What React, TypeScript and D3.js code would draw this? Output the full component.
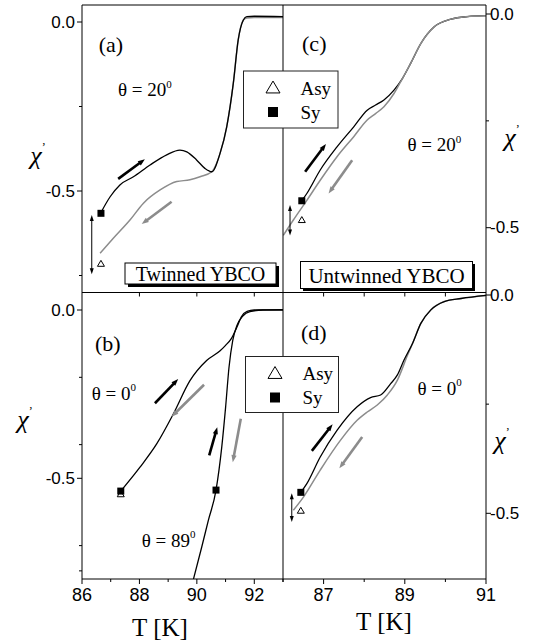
import React from "react";
import * as d3 from "d3";

// ---------- data ----------
const aSyT = [86.67, 86.98, 87.32, 87.79, 88.37, 88.95, 89.41, 89.65, 89.99, 90.28, 90.52, 90.81, 91.04, 91.27, 91.44, 91.62, 91.74, 92.0, 93.0];
const aSyChi = [-0.562, -0.517, -0.482, -0.458, -0.423, -0.393, -0.379, -0.384, -0.408, -0.433, -0.443, -0.388, -0.31, -0.181, -0.053, 0.006, 0.016, 0.017, 0.016];
const aAsyT = [86.63, 87.09, 87.67, 88.14, 88.72, 89.3, 89.76, 90.11, 90.52, 90.81, 91.04, 91.27, 91.44, 91.62, 91.74, 92.0, 93.0];
const aAsyChi = [-0.684, -0.64, -0.586, -0.536, -0.497, -0.472, -0.467, -0.458, -0.443, -0.388, -0.31, -0.181, -0.053, 0.006, 0.012, 0.013, 0.013];

const b0T = [87.35, 88.02, 88.6, 89.18, 89.76, 90.34, 90.81, 91.0, 91.2, 91.4, 91.55, 91.75, 92.0, 93.0];
const b0Chi = [-0.538, -0.467, -0.398, -0.309, -0.21, -0.15, -0.121, -0.105, -0.085, -0.05, -0.02, -0.004, 0.0, 0.001];
const b89T = [89.85, 90.17, 90.4, 90.667, 90.866, 91.0, 91.12, 91.25, 91.4, 91.6, 91.85, 92.3, 93.0];
const b89Chi = [-0.81, -0.704, -0.625, -0.535, -0.408, -0.29, -0.17, -0.09, -0.045, -0.018, -0.005, 0.0, 0.0];

const cSyT = [86.463, 86.587, 86.917, 87.33, 87.742, 88.074, 88.28, 88.486, 88.734, 88.94, 89.147, 89.395, 89.725, 90.14, 90.55, 91.0];
const cSyChi = [-0.437, -0.42, -0.365, -0.311, -0.264, -0.225, -0.213, -0.201, -0.178, -0.151, -0.115, -0.069, -0.03, -0.012, -0.006, -0.004];
const cAsyT = [86.007, 86.255, 86.587, 86.917, 87.33, 87.742, 88.074, 88.28, 88.486, 88.734, 88.94, 89.147, 89.395, 89.725, 90.14, 90.55, 91.0];
const cAsyChi = [-0.518, -0.482, -0.436, -0.389, -0.334, -0.287, -0.248, -0.233, -0.217, -0.186, -0.151, -0.115, -0.069, -0.03, -0.012, -0.006, -0.004];

const dSyT = [86.439, 86.587, 86.917, 87.33, 87.826, 88.156, 88.404, 88.652, 88.818, 88.981, 89.19, 89.395, 89.643, 89.973, 90.387, 91.0];
const dSyChi = [-0.452, -0.432, -0.371, -0.31, -0.256, -0.235, -0.229, -0.203, -0.183, -0.149, -0.111, -0.065, -0.034, -0.015, -0.008, -0.001];
const dAsyT = [86.255, 86.503, 86.917, 87.413, 87.826, 88.074, 88.322, 88.57, 88.818, 89.066, 89.19, 89.395, 89.643, 89.973, 90.387, 91.0];
const dAsyChi = [-0.493, -0.463, -0.401, -0.333, -0.287, -0.268, -0.252, -0.229, -0.195, -0.138, -0.111, -0.065, -0.034, -0.015, -0.008, -0.001];

// markers [T, chi]
const aSquares = [[86.66, -0.566]];
const aTriangles = [[86.66, -0.714]];
const bSquares = [[87.35, -0.538], [90.667, -0.535]];
const bTriangles = [[87.35, -0.546]];
const cSquares = [[86.463, -0.437]];
const cTriangles = [[86.463, -0.481]];
const dSquares = [[86.439, -0.452]];
const dTriangles = [[86.439, -0.493]];

// arrows [T1, chi1, T2, chi2]
const aArrowsUp = [[87.26, -0.464, 88.19, -0.406]];
const aArrowsDown = [[89.12, -0.532, 88.08, -0.598]];
const aDouble = [[86.34, -0.571, 86.34, -0.746]];
const bArrowsUp = [[88.54, -0.277, 89.35, -0.205], [90.43, -0.432, 90.71, -0.348]];
const bArrowsDown = [[90.25, -0.222, 89.12, -0.317], [91.53, -0.323, 91.25, -0.452]];
const cArrowsUp = [[86.545, -0.369, 87.058, -0.304]];
const cArrowsDown = [[87.703, -0.342, 87.123, -0.42]];
const cDouble = [[86.173, -0.447, 86.173, -0.518]];
const dArrowsUp = [[86.711, -0.357, 87.222, -0.296]];
const dArrowsDown = [[87.95, -0.325, 87.388, -0.397]];
const dDouble = [[86.216, -0.454, 86.216, -0.52]];

const leftXTicks = [86, 88, 90, 92];
const leftXMinor = [87, 89, 91, 93];
const rightXTicks = [87, 89, 91];
const rightXMinor = [86, 88, 90];
const yMajor = [0, -0.5];
const yLabels = ["0.0", "-0.5"];
const aMinor = [-0.25, -0.75];
const bMinor = [-0.2, -0.4, -0.7, -0.775];
const cMinor = [-0.25];
const dMinor = [-0.25];
const leftDividerTicks = [88, 90, 92];
const rightDividerTicks = [87, 88, 89, 90];

// ---------- layout ----------
const W = 539, H = 643;
const L = 82, M = 283, R = 486, T0 = 5, MID = 292.5, B = 579;
const SERIF = "'Liberation Serif','Times New Roman',serif";
const SANS = "'Liberation Sans',Arial,sans-serif";
const GRAY = "#8c8c8c";

const xL = d3.scaleLinear().domain([86, 93]).range([L, M]);
const xR = d3.scaleLinear().domain([86, 91]).range([M, R]);
const yA = d3.scaleLinear().domain([0, -0.5]).range([22, 191]);
const yB = d3.scaleLinear().domain([0, -0.5]).range([310, 478.3]);
const yC = d3.scaleLinear().domain([0, -0.5]).range([14, 227.7]);
const yD = d3.scaleLinear().domain([0, -0.5]).range([295, 513.3]);

const zip = (a: number[], b: number[]) => a.map((v, i) => [v, b[i]] as [number, number]);

function pathOf(x: any, y: any, T: number[], C: number[]) {
  return d3.line<[number, number]>().x(d => x(d[0])).y(d => y(d[1])).curve(d3.curveMonotoneX)(zip(T, C)) || "";
}

function Arrow({ x1, y1, x2, y2, color, w, hl, hw }: any) {
  const dx = x2 - x1, dy = y2 - y1;
  const len = Math.hypot(dx, dy);
  const ux = dx / len, uy = dy / len;
  const bx = x2 - ux * hl, by = y2 - uy * hl;
  const px = -uy, py = ux;
  return (
    <g>
      <line x1={x1} y1={y1} x2={bx + ux * 1} y2={by + uy * 1} stroke={color} strokeWidth={w} />
      <polygon points={`${x2},${y2} ${bx + px * hw},${by + py * hw} ${bx - px * hw},${by - py * hw}`} fill={color} />
    </g>
  );
}

function DoubleArrow({ x, y1, y2 }: any) {
  return (
    <g>
      <line x1={x} y1={y1 + 4} x2={x} y2={y2 - 4} stroke="#000" strokeWidth={1} />
      <polygon points={`${x},${y1} ${x - 2},${y1 + 6} ${x + 2},${y1 + 6}`} fill="#000" />
      <polygon points={`${x},${y2} ${x - 2},${y2 - 6} ${x + 2},${y2 - 6}`} fill="#000" />
    </g>
  );
}

function Square({ cx, cy, s }: any) {
  return <rect x={cx - s / 2} y={cy - s / 2} width={s} height={s} fill="#000" />;
}
function Triangle({ cx, cy, s, color = "#000" }: any) {
  const h = s * 0.85;
  return <polygon points={`${cx},${cy - h / 2} ${cx - s / 2},${cy + h / 2} ${cx + s / 2},${cy + h / 2}`} fill="#fff" stroke={color} strokeWidth={1} />;
}

function Theta({ x, y, deg }: any) {
  return (
    <text x={x} y={y} fontFamily={SERIF} fontSize={19} fill="#000" dominantBaseline="middle">
      θ = {deg}
      <tspan dy={-7} fontSize={11}>0</tspan>
    </text>
  );
}

function Chi({ x, y }: any) {
  return (
    <text x={x} y={y} fontFamily={SERIF} fontSize={26} fontStyle="italic" fill="#000" textAnchor="middle">
      χ<tspan fontSize={12} dy={-13} fontStyle="normal">’</tspan>
    </text>
  );
}

export default function App() {
  const panels = [
    { clip: "ca", x0: L, x1: M, y0: T0, y1: MID },
    { clip: "cb", x0: L, x1: M, y0: MID, y1: B },
    { clip: "cc", x0: M, x1: R, y0: T0, y1: MID },
    { clip: "cd", x0: M, x1: R, y0: MID, y1: B },
  ];
  const arrowEls = (x: any, y: any, arr: number[][], color: string) =>
    arr.map((a, i) => <Arrow key={i} x1={x(a[0])} y1={y(a[1])} x2={x(a[2])} y2={y(a[3])} color={color} w={2.6} hl={7} hw={2.6} />);
  const dblEls = (x: any, y: any, arr: number[][]) =>
    arr.map((a, i) => <DoubleArrow key={i} x={x(a[0])} y1={y(a[1])} y2={y(a[3])} />);
  const sqEls = (x: any, y: any, arr: number[][], s = 7) => arr.map((a, i) => <Square key={i} cx={x(a[0])} cy={y(a[1])} s={s} />);
  const triEls = (x: any, y: any, arr: number[][], s = 7) => arr.map((a, i) => <Triangle key={i} cx={x(a[0])} cy={y(a[1])} s={s} />);

  return (
    <svg width={W} height={H} style={{ position: "absolute", left: 0, top: 0, background: "#fff" }}>
      <defs>
        {panels.map(p => (
          <clipPath id={p.clip} key={p.clip}>
            <rect x={p.x0} y={p.y0} width={p.x1 - p.x0} height={p.y1 - p.y0} />
          </clipPath>
        ))}
      </defs>
      <rect x={0} y={0} width={W} height={H} fill="#fff" />

      {/* curves */}
      <g clipPath="url(#ca)" fill="none">
        <path d={pathOf(xL, yA, aAsyT, aAsyChi)} stroke={GRAY} strokeWidth={1.5} />
        <path d={pathOf(xL, yA, aSyT, aSyChi)} stroke="#000" strokeWidth={1.3} />
      </g>
      <g clipPath="url(#cb)" fill="none">
        <path d={pathOf(xL, yB, b0T, b0Chi)} stroke="#000" strokeWidth={1.3} />
        <path d={pathOf(xL, yB, b89T, b89Chi)} stroke="#000" strokeWidth={1.3} />
      </g>
      <g clipPath="url(#cc)" fill="none">
        <path d={pathOf(xR, yC, cSyT, cSyChi)} stroke="#000" strokeWidth={1.3} />
        <path d={pathOf(xR, yC, cAsyT, cAsyChi)} stroke={GRAY} strokeWidth={1.5} />
      </g>
      <g clipPath="url(#cd)" fill="none">
        <path d={pathOf(xR, yD, dAsyT, dAsyChi)} stroke={GRAY} strokeWidth={1.5} />
        <path d={pathOf(xR, yD, dSyT, dSyChi)} stroke="#000" strokeWidth={1.3} />
      </g>

      {/* arrows */}
      {arrowEls(xL, yA, aArrowsUp, "#000")}
      {arrowEls(xL, yA, aArrowsDown, GRAY)}
      {dblEls(xL, yA, aDouble)}
      {arrowEls(xL, yB, bArrowsUp, "#000")}
      {arrowEls(xL, yB, bArrowsDown, GRAY)}
      {arrowEls(xR, yC, cArrowsUp, "#000")}
      {arrowEls(xR, yC, cArrowsDown, GRAY)}
      {dblEls(xR, yC, cDouble)}
      {arrowEls(xR, yD, dArrowsUp, "#000")}
      {arrowEls(xR, yD, dArrowsDown, GRAY)}
      {dblEls(xR, yD, dDouble)}

      {/* markers */}
      {triEls(xL, yA, aTriangles)}
      {sqEls(xL, yA, aSquares)}
      {triEls(xL, yB, bTriangles)}
      {sqEls(xL, yB, bSquares)}
      {triEls(xR, yC, cTriangles)}
      {sqEls(xR, yC, cSquares)}
      {triEls(xR, yD, dTriangles)}
      {sqEls(xR, yD, dSquares)}

      {/* frame */}
      <g stroke="#000" strokeWidth={1} fill="none">
        <line x1={L} y1={T0} x2={R} y2={T0} />
        <line x1={L} y1={T0} x2={L} y2={B} />
        <line x1={R} y1={T0} x2={R} y2={B} />
        <line x1={M} y1={T0} x2={M} y2={B} />
        <line x1={L} y1={MID} x2={R} y2={MID} />
        <line x1={L} y1={B} x2={R} y2={B} />
      </g>

      {/* left y ticks */}
      {[{ y: yA, minor: aMinor }, { y: yB, minor: bMinor }].map((p, pi) => (
        <g key={"ly" + pi}>
          {yMajor.map((v, i) => (
            <g key={i}>
              <line x1={L - 5} x2={L} y1={p.y(v)} y2={p.y(v)} stroke="#000" />
              <text x={L - 7} y={p.y(v)} fontFamily={SANS} fontSize={17} textAnchor="end" dominantBaseline="central">{yLabels[i]}</text>
            </g>
          ))}
          {p.minor.map((v, i) => <line key={"m" + i} x1={L - 3} x2={L} y1={p.y(v)} y2={p.y(v)} stroke="#000" />)}
        </g>
      ))}
      {/* right y ticks */}
      {[{ y: yC, minor: cMinor }, { y: yD, minor: dMinor }].map((p, pi) => (
        <g key={"ry" + pi}>
          {yMajor.map((v, i) => (
            <g key={i}>
              <line x1={R} x2={R + 5} y1={p.y(v)} y2={p.y(v)} stroke="#000" />
              <text x={R + 4} y={p.y(v)} fontFamily={SANS} fontSize={17} textAnchor="start" dominantBaseline="central">{yLabels[i]}</text>
            </g>
          ))}
          {p.minor.map((v, i) => <line key={"m" + i} x1={R} x2={R + 3} y1={p.y(v)} y2={p.y(v)} stroke="#000" />)}
        </g>
      ))}

      {/* bottom x ticks */}
      {leftXTicks.map((v, i) => (
        <g key={"lx" + i}>
          <line x1={xL(v)} x2={xL(v)} y1={B} y2={B + 5} stroke="#000" />
          <text x={xL(v)} y={B + 22} fontFamily={SANS} fontSize={18} textAnchor="middle">{v}</text>
        </g>
      ))}
      {leftXMinor.map((v, i) => <line key={"lxm" + i} x1={xL(v)} x2={xL(v)} y1={B} y2={B + 3} stroke="#000" />)}
      {rightXTicks.map((v, i) => (
        <g key={"rx" + i}>
          <line x1={xR(v)} x2={xR(v)} y1={B} y2={B + 5} stroke="#000" />
          <text x={xR(v)} y={B + 22} fontFamily={SANS} fontSize={18} textAnchor="middle">{v}</text>
        </g>
      ))}
      {rightXMinor.map((v, i) => <line key={"rxm" + i} x1={xR(v)} x2={xR(v)} y1={B} y2={B + 3} stroke="#000" />)}
      {leftDividerTicks.map((v, i) => <line key={"ldt" + i} x1={xL(v)} x2={xL(v)} y1={MID} y2={MID + 4} stroke="#000" />)}
      {rightDividerTicks.map((v, i) => <line key={"rdt" + i} x1={xR(v)} x2={xR(v)} y1={MID} y2={MID + 4} stroke="#000" />)}

      {/* axis titles */}
      <text x={160} y={636} fontFamily={SERIF} fontSize={25} textAnchor="middle">T [K]</text>
      <text x={384} y={630} fontFamily={SERIF} fontSize={25} textAnchor="middle">T [K]</text>
      <Chi x={38} y={164} />
      <Chi x={25} y={428} />
      <Chi x={512} y={146} />
      <Chi x={502} y={449} />

      {/* panel labels */}
      <text x={xL(87.01)} y={yA(-0.068)} fontFamily={SERIF} fontSize={22} textAnchor="middle" dominantBaseline="central">(a)</text>
      <text x={xL(86.9)} y={yB(-0.1)} fontFamily={SERIF} fontSize={22} textAnchor="middle" dominantBaseline="central">(b)</text>
      <text x={xR(86.77)} y={yC(-0.068)} fontFamily={SERIF} fontSize={22} textAnchor="middle" dominantBaseline="central">(c)</text>
      <text x={xR(86.76)} y={yD(-0.087)} fontFamily={SERIF} fontSize={22} textAnchor="middle" dominantBaseline="central">(d)</text>

      <Theta x={xL(87.25)} y={yA(-0.207)} deg="20" />
      <Theta x={xL(86.34)} y={yB(-0.254)} deg="0" />
      <Theta x={xL(88.08)} y={yB(-0.69)} deg="89" />
      <Theta x={xR(89.066)} y={yC(-0.311)} deg="20" />
      <Theta x={xR(89.31)} y={yD(-0.218)} deg="0" />

      {/* legends */}
      {[{ x: 243.5, y: 71, w: 94.5, h: 57 }, { x: 245.5, y: 356.5, w: 93, h: 56 }].map((b, i) => (
        <g key={"lg" + i}>
          <rect x={b.x} y={b.y} width={b.w} height={b.h} fill="#fff" stroke="#222" strokeWidth={1} />
          <Triangle cx={b.x + 29.5} cy={b.y + 16} s={14} />
          <rect x={b.x + 24.5} y={b.y + 36} width={10} height={10} fill="#000" />
          <text x={b.x + 57} y={b.y + 17} fontFamily={SERIF} fontSize={19} dominantBaseline="central">Asy</text>
          <text x={b.x + 57} y={b.y + 41} fontFamily={SERIF} fontSize={19} dominantBaseline="central">Sy</text>
        </g>
      ))}

      {/* sample boxes */}
      <rect x={128} y={266} width={151} height={21} fill="#000" />
      <rect x={125} y={263} width={151} height={21} fill="#fff" stroke="#000" strokeWidth={1} />
      <text x={200.5} y={274} fontFamily={SERIF} fontSize={20} textAnchor="middle" dominantBaseline="central">Twinned YBCO</text>
      <rect x={303} y={264} width={172} height={27} fill="#000" />
      <rect x={300.5} y={261.5} width={172} height={27} fill="#fff" stroke="#000" strokeWidth={1} />
      <text x={386.5} y={275.5} fontFamily={SERIF} fontSize={21} textAnchor="middle" dominantBaseline="central">Untwinned YBCO</text>
    </svg>
  );
}
